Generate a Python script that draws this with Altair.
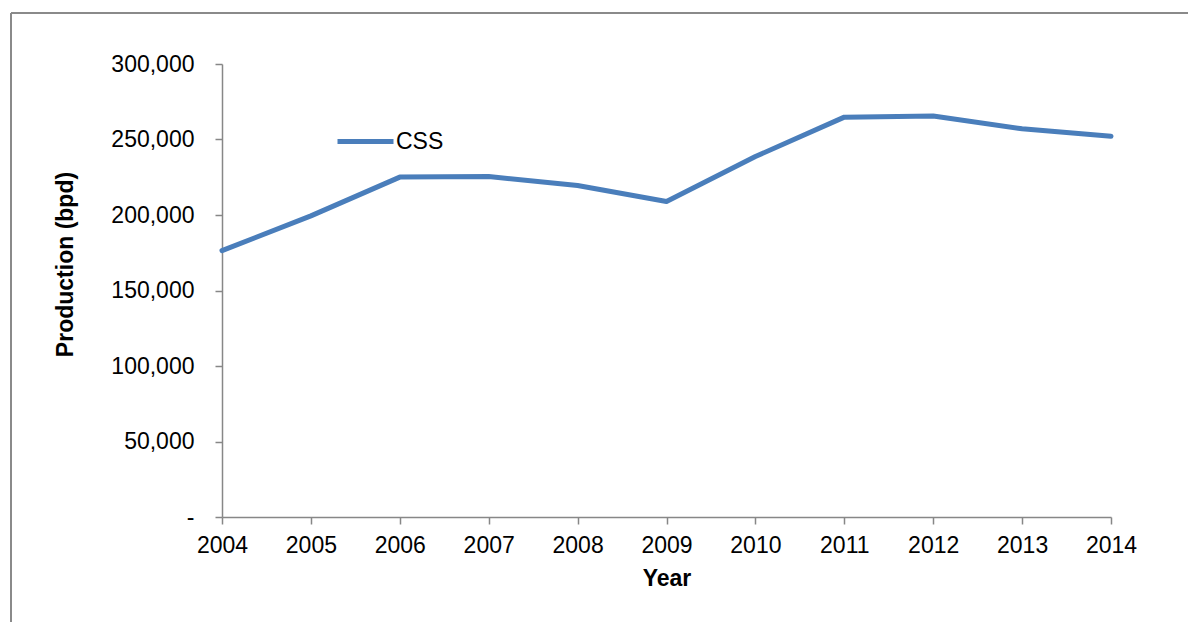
import altair as alt
import pandas as pd

# Annual CSS production, barrels per day
years = [2004, 2005, 2006, 2007, 2008, 2009, 2010, 2011, 2012, 2013, 2014]
production = [176400, 199400, 225100, 225500, 219500, 208900,
              238700, 264800, 265500, 257100, 252200]
series_name = "CSS"
y_ticks = [0, 50000, 100000, 150000, 200000, 250000, 300000]

df = pd.DataFrame({"Year": years, "Production": production, "Series": series_name})

FONT = "Liberation Sans"
AXIS_GREY = "#878787"
LINE_BLUE = "#4a7ebb"

line = alt.Chart(df).mark_line(
    strokeWidth=5, strokeCap="round", strokeJoin="round"
).encode(
    x=alt.X(
        "Year:Q",
        scale=alt.Scale(domain=[2004, 2014], nice=False, zero=False),
        axis=alt.Axis(
            title="Year",
            values=years,
            format="d",
            grid=False,
            domainColor=AXIS_GREY,
            domainWidth=1.5,
            tickColor=AXIS_GREY,
            tickWidth=1.5,
            tickSize=7,
            labelFont=FONT,
            labelFontSize=23,
            labelColor="#000000",
            labelPadding=10,
            labelFlush=False,
            titleFont=FONT,
            titleFontSize=23,
            titleFontWeight="bold",
            titleColor="#000000",
            titlePadding=10,
        ),
    ),
    y=alt.Y(
        "Production:Q",
        scale=alt.Scale(domain=[0, 300000], nice=False),
        axis=alt.Axis(
            title="Production (bpd)",
            values=y_ticks,
            labelExpr="datum.value == 0 ? '-' : format(datum.value, ',')",
            grid=False,
            domainColor=AXIS_GREY,
            domainWidth=1.5,
            tickColor=AXIS_GREY,
            tickWidth=1.5,
            tickSize=7,
            labelFont=FONT,
            labelFontSize=23,
            labelColor="#000000",
            labelPadding=21,
            titleFont=FONT,
            titleFontSize=23,
            titleFontWeight="bold",
            titleColor="#000000",
            titleAngle=270,
            titleAlign="center",
            titleBaseline="middle",
            titleX=-157,
            titleY=200,
        ),
    ),
    color=alt.Color(
        "Series:N",
        scale=alt.Scale(domain=[series_name], range=[LINE_BLUE]),
        legend=alt.Legend(
            title=None,
            orient="none",
            legendX=113,
            legendY=47,
            padding=0,
            symbolType="stroke",
            symbolSize=3136,
            symbolStrokeWidth=5,
            labelFont=FONT,
            labelFontSize=23,
            labelColor="#000000",
            labelOffset=0,
        ),
    ),
)

# Outer frame: left and top edges of the chart border
frame_left = alt.Chart(df).mark_rule(color="#8a8a8a", strokeWidth=2).encode(
    x=alt.value(-211), y=alt.value(-51), y2=alt.value(620)
)
frame_top = alt.Chart(df).mark_rule(color="#8a8a8a", strokeWidth=2).encode(
    x=alt.value(-211), x2=alt.value(1000), y=alt.value(-51)
)

chart = alt.layer(line, frame_left, frame_top).properties(
    width=889,
    height=453,
    autosize=alt.AutoSizeParams(type="none"),
    padding={"left": 222, "top": 64, "right": 77, "bottom": 105},
    background="#ffffff",
).configure_view(stroke=None)

chart.save("out.html", embed_options={"renderer": "svg", "actions": False})
